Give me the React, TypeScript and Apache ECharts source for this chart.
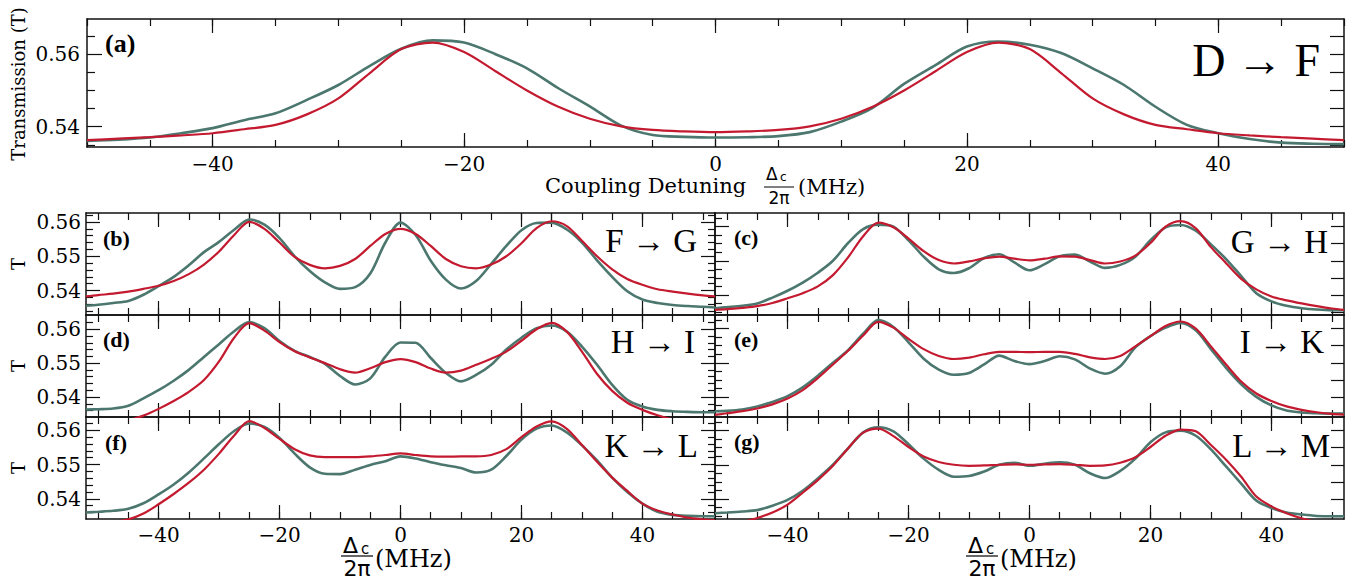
import React, { useEffect, useRef } from "react";
import * as echarts from "echarts";

// ---------------- data ----------------
const X_TOP = [-50, -47.5, -45, -42.5, -40, -37.5, -35, -32.5, -30, -27.5, -25, -22.5, -20, -17.5, -15, -12.5, -10, -7.5, -5, -2.5, 0, 2.5, 5, 7.5, 10, 12.5, 15, 17.5, 20, 22.5, 25, 27.5, 30, 32.5, 35, 37.5, 40, 42.5, 45, 47.5, 50];
const A_DATA = [0.5361, 0.5364, 0.537, 0.5382, 0.5396, 0.5418, 0.5437, 0.5474, 0.5515, 0.5568, 0.5615, 0.5638, 0.5632, 0.56, 0.5561, 0.5506, 0.5456, 0.5403, 0.5377, 0.5372, 0.537, 0.5371, 0.5374, 0.5385, 0.5414, 0.5452, 0.5518, 0.557, 0.5621, 0.5635, 0.5626, 0.5603, 0.5561, 0.5515, 0.5455, 0.5405, 0.5382, 0.5366, 0.5356, 0.5353, 0.5352];
const A_FIT = [0.5363, 0.5367, 0.5371, 0.5376, 0.5382, 0.5393, 0.5405, 0.5434, 0.5478, 0.5548, 0.5614, 0.5632, 0.5606, 0.5553, 0.55, 0.5455, 0.5422, 0.5401, 0.5391, 0.5387, 0.5385, 0.5387, 0.5391, 0.5401, 0.5422, 0.5455, 0.55, 0.5553, 0.5606, 0.5632, 0.5614, 0.5548, 0.5478, 0.5434, 0.5405, 0.5393, 0.5382, 0.5376, 0.5371, 0.5367, 0.5363];

const X_BOT = [-52, -50, -47.5, -45, -42.5, -40, -37.5, -35, -32.5, -30, -27.5, -25, -22.5, -20, -17.5, -15, -12.5, -10, -7.5, -5, -2.5, 0, 2.5, 5, 7.5, 10, 12.5, 15, 17.5, 20, 22.5, 25, 27.5, 30, 32.5, 35, 37.5, 40, 42.5, 45, 47.5, 50, 52];

const B_DATA = [0.5356, 0.5359, 0.5364, 0.537, 0.5388, 0.5413, 0.544, 0.5474, 0.5512, 0.5542, 0.5577, 0.5607, 0.5592, 0.5553, 0.55, 0.5457, 0.5424, 0.5405, 0.541, 0.545, 0.554, 0.5598, 0.5562, 0.5487, 0.5432, 0.5406, 0.5428, 0.5478, 0.553, 0.5576, 0.5597, 0.5598, 0.5578, 0.554, 0.5488, 0.544, 0.5398, 0.5374, 0.5364, 0.5358, 0.5355, 0.5353, 0.5351];
const B_FIT = [0.5383, 0.5387, 0.5391, 0.5397, 0.5405, 0.5414, 0.5428, 0.5448, 0.5476, 0.5514, 0.5562, 0.56, 0.558, 0.554, 0.5498, 0.5475, 0.5465, 0.5472, 0.5492, 0.553, 0.5565, 0.558, 0.5565, 0.553, 0.5492, 0.5471, 0.5465, 0.5476, 0.55, 0.5538, 0.5582, 0.5602, 0.5588, 0.5545, 0.55, 0.5462, 0.5434, 0.5417, 0.5404, 0.5397, 0.5391, 0.5386, 0.5383];

const C_DATA = [0.5361, 0.5364, 0.5368, 0.5375, 0.5392, 0.5412, 0.5436, 0.5465, 0.55, 0.5552, 0.5593, 0.5606, 0.56, 0.556, 0.5512, 0.5475, 0.5464, 0.5478, 0.5508, 0.5519, 0.5495, 0.5472, 0.549, 0.5513, 0.5518, 0.5498, 0.5479, 0.5488, 0.5512, 0.556, 0.5598, 0.5605, 0.5588, 0.5548, 0.5505, 0.5455, 0.5405, 0.5381, 0.5368, 0.5361, 0.5357, 0.5355, 0.5355];
const C_FIT = [0.5356, 0.5358, 0.5362, 0.5367, 0.5376, 0.539, 0.5405, 0.5425, 0.5458, 0.551, 0.5572, 0.5612, 0.5598, 0.5565, 0.5528, 0.5502, 0.5492, 0.5498, 0.5507, 0.5512, 0.5506, 0.5501, 0.5506, 0.5513, 0.5512, 0.5502, 0.5492, 0.5498, 0.5515, 0.5552, 0.56, 0.5616, 0.5595, 0.554, 0.5493, 0.5447, 0.5416, 0.5395, 0.5384, 0.5375, 0.5367, 0.536, 0.5356];

const D_DATA = [0.5363, 0.5364, 0.5366, 0.5374, 0.5396, 0.542, 0.5448, 0.548, 0.5518, 0.5556, 0.5594, 0.5621, 0.5603, 0.5565, 0.5536, 0.5518, 0.5498, 0.5462, 0.5437, 0.5455, 0.5519, 0.5561, 0.556, 0.5515, 0.5471, 0.5446, 0.5465, 0.5495, 0.554, 0.5575, 0.5603, 0.5611, 0.5593, 0.5549, 0.5495, 0.5436, 0.5392, 0.5372, 0.5362, 0.5358, 0.5356, 0.5355, 0.5355];
const D_FIT = [0.5305, 0.5312, 0.532, 0.5331, 0.5345, 0.5365, 0.5388, 0.5415, 0.545, 0.5505, 0.5575, 0.5618, 0.5596, 0.5562, 0.5535, 0.5517, 0.55, 0.5482, 0.5472, 0.5485, 0.5503, 0.5512, 0.5503, 0.5484, 0.5472, 0.5478, 0.5495, 0.5513, 0.5534, 0.5566, 0.56, 0.5619, 0.5593, 0.5534, 0.5468, 0.5418, 0.5383, 0.5362, 0.5346, 0.5334, 0.5324, 0.5316, 0.531];

const E_DATA = [0.5358, 0.5359, 0.5363, 0.5372, 0.5385, 0.5402, 0.5428, 0.5462, 0.55, 0.5537, 0.5585, 0.5625, 0.5605, 0.556, 0.5512, 0.548, 0.5465, 0.547, 0.5495, 0.5521, 0.5505, 0.5496, 0.5505, 0.5519, 0.551, 0.5483, 0.5468, 0.549, 0.5545, 0.5578, 0.5603, 0.5617, 0.5595, 0.554, 0.5485, 0.5437, 0.54, 0.5375, 0.536, 0.5354, 0.5352, 0.5351, 0.5351];
const E_FIT = [0.5347, 0.5352, 0.5358, 0.5366, 0.5378, 0.5395, 0.542, 0.5455, 0.5495, 0.5535, 0.558, 0.562, 0.5603, 0.557, 0.554, 0.552, 0.5511, 0.5515, 0.5525, 0.5532, 0.5532, 0.5531, 0.5532, 0.5532, 0.5526, 0.5516, 0.5511, 0.552, 0.5548, 0.5578, 0.5608, 0.5621, 0.56, 0.5548, 0.5495, 0.5445, 0.541, 0.5388, 0.5372, 0.5362, 0.5355, 0.535, 0.5348];

const F_DATA = [0.536, 0.5362, 0.5365, 0.5371, 0.5387, 0.5413, 0.5442, 0.5477, 0.5518, 0.556, 0.5598, 0.562, 0.561, 0.5578, 0.5532, 0.5492, 0.5473, 0.5472, 0.5485, 0.5499, 0.551, 0.5524, 0.5518, 0.5507, 0.5498, 0.549, 0.5477, 0.5485, 0.5525, 0.5573, 0.5605, 0.5614, 0.5594, 0.5556, 0.5512, 0.5462, 0.542, 0.5386, 0.5362, 0.5353, 0.535, 0.5349, 0.5349];
const F_FIT = [0.532, 0.5325, 0.5332, 0.534, 0.5357, 0.5384, 0.5414, 0.5447, 0.5485, 0.5532, 0.5585, 0.5627, 0.5607, 0.5575, 0.5545, 0.5527, 0.5522, 0.5522, 0.5522, 0.5524, 0.5528, 0.5533, 0.5528, 0.5524, 0.5523, 0.5524, 0.5524, 0.5528, 0.5545, 0.558, 0.5611, 0.5626, 0.5604, 0.5557, 0.5508, 0.5462, 0.5423, 0.5386, 0.5366, 0.5354, 0.5345, 0.534, 0.5337];

const G_DATA = [0.5358, 0.536, 0.5363, 0.5367, 0.538, 0.5397, 0.5424, 0.546, 0.55, 0.5548, 0.5595, 0.561, 0.5598, 0.556, 0.5518, 0.5485, 0.5465, 0.5467, 0.548, 0.55, 0.5506, 0.5497, 0.5503, 0.5507, 0.55, 0.5475, 0.5461, 0.5482, 0.5518, 0.5566, 0.5595, 0.56, 0.5585, 0.5545, 0.5495, 0.5445, 0.5395, 0.5373, 0.536, 0.5354, 0.535, 0.5349, 0.5349];
const G_FIT = [0.5318, 0.5323, 0.5332, 0.5344, 0.536, 0.5383, 0.5418, 0.5455, 0.5497, 0.5548, 0.5594, 0.5606, 0.5584, 0.5552, 0.5524, 0.5508, 0.55, 0.5497, 0.5498, 0.55, 0.5501, 0.55, 0.5501, 0.5502, 0.55, 0.5497, 0.5498, 0.5506, 0.5522, 0.5552, 0.5585, 0.5603, 0.5598, 0.5558, 0.5515, 0.5465, 0.5407, 0.5378, 0.5358, 0.5343, 0.5332, 0.5325, 0.532];

// tick values
const X_MAJOR = [-40, -20, 0, 20, 40];
const X_TOP_MAJOR_SMALL = [-40, -25, -20, 0, 20, 25, 40];
const X_MINOR = [-50, -45, -40, -35, -30, -25, -20, -15, -10, -5, 0, 5, 10, 15, 20, 25, 30, 35, 40, 45, 50];
const Y_A_MAJOR = [0.54, 0.56];
const Y_A_MINOR = [0.535, 0.545, 0.55, 0.555, 0.565];
const Y_A_RIGHT = [0.535, 0.54, 0.545, 0.55, 0.555, 0.56, 0.565];
const Y_MAJOR = [0.54, 0.55, 0.56];
const Y_MINOR_L = [0.534, 0.536, 0.538, 0.542, 0.544, 0.546, 0.548, 0.552, 0.554, 0.556, 0.558, 0.562];
const Y_MINOR_R = [0.535, 0.5375, 0.5425, 0.545, 0.5475, 0.5525, 0.555, 0.5575, 0.5625];
const Y_RIGHT_R = [0.535, 0.54, 0.545, 0.55, 0.555, 0.56];

const PANEL_LABELS = ["(a)", "(b)", "(c)", "(d)", "(e)", "(f)", "(g)"];
const TRANSITIONS = ["D → F", "F → G", "G → H", "H → I", "I → K", "K → L", "L → M"];

// ---------------- styling / layout ----------------
const DATA_COLOR = "#4b776e";
const FIT_COLOR = "#c41a30";
const SERIF = "DejaVu Serif";
const CM = "Liberation Serif";
const SANS = "DejaVu Sans";
const AXIS_COLOR = "#111";

const PANELS = [
  { left: 87, top: 19, width: 1257, height: 128, xs: X_TOP, data: A_DATA, fit: A_FIT, xmin: -50, xmax: 50, ymin: 0.5344, ymax: 0.5697, kind: "top", col: 0, xlabels: true },
  { left: 86, top: 213, width: 629, height: 102, xs: X_BOT, data: B_DATA, fit: B_FIT, xmin: -52, xmax: 52, ymin: 0.5329, ymax: 0.5626, kind: "small", col: 0, xlabels: false },
  { left: 715, top: 213, width: 629, height: 102, xs: X_BOT, data: C_DATA, fit: C_FIT, xmin: -52, xmax: 52, ymin: 0.5341, ymax: 0.564, kind: "small", col: 1, xlabels: false },
  { left: 86, top: 315, width: 629, height: 102, xs: X_BOT, data: D_DATA, fit: D_FIT, xmin: -52, xmax: 52, ymin: 0.5341, ymax: 0.5642, kind: "small", col: 0, xlabels: false },
  { left: 715, top: 315, width: 629, height: 102, xs: X_BOT, data: E_DATA, fit: E_FIT, xmin: -52, xmax: 52, ymin: 0.5341, ymax: 0.564, kind: "small", col: 1, xlabels: false },
  { left: 86, top: 417, width: 629, height: 102, xs: X_BOT, data: F_DATA, fit: F_FIT, xmin: -52, xmax: 52, ymin: 0.5341, ymax: 0.5639, kind: "small", col: 0, xlabels: true },
  { left: 715, top: 417, width: 629, height: 102, xs: X_BOT, data: G_DATA, fit: G_FIT, xmin: -52, xmax: 52, ymin: 0.5341, ymax: 0.564, kind: "small", col: 1, xlabels: true },
];

const LABEL_POS = [
  [105, 43, 26], [103, 238, 22], [734, 237, 22], [103, 339, 22], [734, 339, 22], [105, 442, 22], [734, 441, 22],
];
const TRANS_POS = [
  [1320, 60, 46], [697, 241, 33], [1328, 242, 33], [695, 342, 33], [1324, 342, 33], [698, 446, 33], [1330, 446, 33],
];

const fmtX = (v: number) => (v < 0 ? "\u2212" + Math.abs(v) : String(v));
const fmtY = (v: number) => v.toFixed(2);

function within(vals: number[], lo: number, hi: number) {
  return vals.filter((v) => v >= lo - 1e-9 && v <= hi + 1e-9);
}

function buildOption() {
  const grids: any[] = [];
  const xAxes: any[] = [];
  const yAxes: any[] = [];
  const series: any[] = [];

  PANELS.forEach((p, gi) => {
    grids.push({ left: p.left, top: p.top, width: p.width, height: p.height, show: false });
    const isTop = p.kind === "top";
    const mkX = (position: string, ticks: number[], len: number, showLine: boolean, labels: number[] | null) => {
      xAxes.push({
        type: "value",
        gridIndex: gi,
        min: p.xmin,
        max: p.xmax,
        position,
        axisLine: { show: showLine, onZero: false, lineStyle: { color: AXIS_COLOR, width: 1.5 } },
        axisTick: { show: true, inside: true, length: len, customValues: within(ticks, p.xmin, p.xmax), lineStyle: { color: AXIS_COLOR, width: 1.2 } },
        axisLabel: labels
          ? { show: true, customValues: labels, margin: isTop ? 7 : 6, color: "#000", fontFamily: SERIF, fontSize: 20, formatter: fmtX }
          : { show: false },
        splitLine: { show: false },
      });
      return xAxes.length - 1;
    };
    const mkY = (position: string, ticks: number[], len: number, showLine: boolean, labels: number[] | null) => {
      yAxes.push({
        type: "value",
        gridIndex: gi,
        min: p.ymin,
        max: p.ymax,
        position,
        axisLine: { show: showLine, onZero: false, lineStyle: { color: AXIS_COLOR, width: 1.5 } },
        axisTick: { show: true, inside: true, length: len, customValues: within(ticks, p.ymin, p.ymax), lineStyle: { color: AXIS_COLOR, width: 1.2 } },
        axisLabel: labels
          ? { show: true, customValues: labels, margin: isTop ? 7 : 5, color: "#000", fontFamily: SERIF, fontSize: 20, formatter: fmtY }
          : { show: false },
        splitLine: { show: false },
      });
      return yAxes.length - 1;
    };

    const xi = mkX("bottom", X_MAJOR, 14, true, p.xlabels ? X_MAJOR : null);
    mkX("bottom", X_MINOR, 7, false, null);
    mkX("top", isTop ? X_MAJOR : X_TOP_MAJOR_SMALL, 14, true, null);
    mkX("top", X_MINOR, 7, false, null);

    let yi: number;
    if (isTop) {
      yi = mkY("left", Y_A_MAJOR, 15, true, Y_A_MAJOR);
      mkY("left", Y_A_MINOR, 8, false, null);
      mkY("right", Y_A_RIGHT, 14, true, null);
    } else if (p.col === 0) {
      yi = mkY("left", Y_MAJOR, 14, true, Y_MAJOR);
      mkY("left", Y_MINOR_L, 7, false, null);
      mkY("right", Y_MAJOR, 14, true, null);
      mkY("right", Y_MINOR_L, 7, false, null);
    } else {
      yi = mkY("left", Y_MAJOR, 14, true, null);
      mkY("left", Y_MINOR_R, 7, false, null);
      mkY("right", Y_RIGHT_R, 13, true, null);
    }

    series.push({
      type: "line",
      xAxisIndex: xi,
      yAxisIndex: yi,
      data: p.xs.map((x, i) => [x, p.data[i]]),
      showSymbol: false,
      smooth: 0.3,
      clip: true,
      silent: true,
      lineStyle: { color: DATA_COLOR, width: 2.6 },
      z: 2,
    });
    series.push({
      type: "line",
      xAxisIndex: xi,
      yAxisIndex: yi,
      data: p.xs.map((x, i) => [x, p.fit[i]]),
      showSymbol: false,
      smooth: 0.3,
      clip: true,
      silent: true,
      lineStyle: { color: FIT_COLOR, width: 2.2 },
      z: 3,
    });
  });

  const graphics: any[] = [];
  const txt = (x: number, y: number, text: string, fontSize: number, fontFamily: string, align = "left", extra: any = {}) => ({
    type: "text",
    x,
    y,
    silent: true,
    style: { text, fontSize, fontFamily, fill: "#000", align, verticalAlign: "middle", ...extra },
  });

  PANEL_LABELS.forEach((t, i) => {
    const [x, y, fs] = LABEL_POS[i];
    graphics.push(txt(x, y, t, fs, CM, "left", { fontWeight: "bold" }));
  });
  TRANSITIONS.forEach((t, i) => {
    const [x, y, fs] = TRANS_POS[i];
    graphics.push(txt(x, y, t, fs, CM, "right"));
  });

  // y axis titles
  graphics.push({ ...txt(18, 84, "Transmission (T)", 18, SERIF, "center"), rotation: Math.PI / 2 });
  [264, 366, 468].forEach((y) => graphics.push({ ...txt(18, y, "T", 18, SERIF, "center"), rotation: Math.PI / 2 }));

  // top x-axis title
  graphics.push(txt(545, 186, "Coupling Detuning", 21, SERIF, "left"));
  graphics.push(txt(766, 174, "Δ", 17, SANS, "left"));
  graphics.push(txt(780, 177, "c", 12, SANS, "left"));
  graphics.push({ type: "line", silent: true, shape: { x1: 764, y1: 187, x2: 794, y2: 187 }, style: { stroke: "#000", lineWidth: 1 } });
  graphics.push(txt(779, 198, "2π", 17, SANS, "center"));
  graphics.push(txt(798, 187, "(MHz)", 21, SERIF, "left"));

  // bottom x-axis titles
  [0, 625].forEach((dx) => {
    graphics.push(txt(343 + dx, 545, "Δ", 22, SANS, "left"));
    graphics.push(txt(361 + dx, 549, "c", 15, SANS, "left"));
    graphics.push({ type: "line", silent: true, shape: { x1: 341 + dx, y1: 556, x2: 373 + dx, y2: 556 }, style: { stroke: "#000", lineWidth: 1.2 } });
    graphics.push(txt(357 + dx, 568, "2π", 22, SANS, "center"));
    graphics.push(txt(375 + dx, 559, "(MHz)", 24, SERIF, "left"));
  });

  return {
    animation: false,
    backgroundColor: "#fff",
    grid: grids,
    xAxis: xAxes,
    yAxis: yAxes,
    series,
    graphic: graphics,
  };
}

export default function App() {
  const ref = useRef<HTMLDivElement>(null);
  useEffect(() => {
    if (!ref.current) return;
    const chart = echarts.init(ref.current, undefined, { renderer: "svg" });
    chart.setOption(buildOption() as any);
    return () => chart.dispose();
  }, []);
  return (
    <div
      ref={ref}
      style={{ position: "fixed", left: 0, top: 0, width: 1363, height: 584, background: "#fff" }}
    />
  );
}
